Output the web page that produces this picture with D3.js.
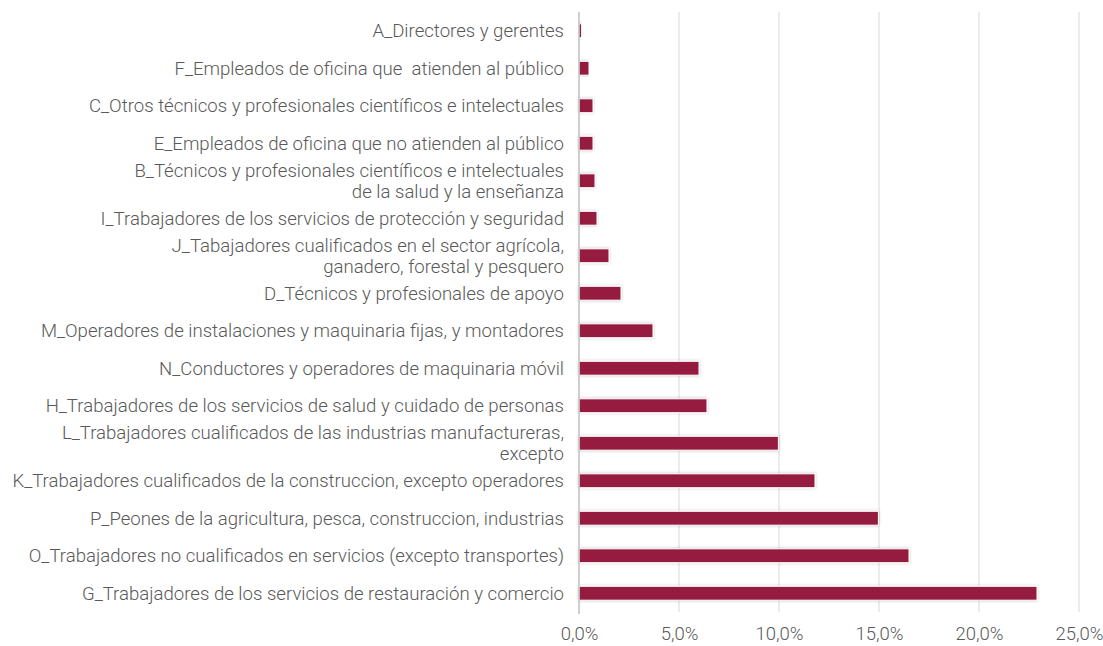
<!DOCTYPE html>
<html>
<head>
<meta charset="utf-8">
<script src="https://cdn.jsdelivr.net/npm/d3@7"></script>
<style>
  body { margin: 0; background: #fff; }
  svg text { font-family: Roboto, "Noto Sans", sans-serif; fill: #595959; font-weight: 300; }
</style>
</head>
<body>
<div id="main"></div>
<script>
// categories top to bottom, each line of a label split with "|"
const categories = [
  "A_Directores y gerentes",
  "F_Empleados de oficina que\u00a0 atienden al público",
  "C_Otros técnicos y profesionales científicos e intelectuales",
  "E_Empleados de oficina que no atienden al público",
  "B_Técnicos y profesionales científicos e intelectuales|de la salud y la enseñanza",
  "I_Trabajadores de los servicios de protección y seguridad",
  "J_Tabajadores cualificados en el sector agrícola,|ganadero, forestal y pesquero",
  "D_Técnicos y profesionales de apoyo",
  "M_Operadores de instalaciones y maquinaria fijas, y montadores",
  "N_Conductores y operadores de maquinaria móvil",
  "H_Trabajadores de los servicios de salud y cuidado de personas",
  "L_Trabajadores cualificados de las industrias manufactureras,|excepto",
  "K_Trabajadores cualificados de la construccion, excepto operadores",
  "P_Peones de la agricultura, pesca, construccion, industrias",
  "O_Trabajadores no cualificados en servicios (excepto transportes)",
  "G_Trabajadores de los servicios de restauración y comercio"
];
const values = [0.0013, 0.005, 0.007, 0.007, 0.008, 0.009, 0.015, 0.021, 0.037, 0.060, 0.064, 0.0997, 0.118, 0.1497, 0.165, 0.229];
const xTicks = [0, 0.05, 0.10, 0.15, 0.20, 0.25];

const config = {width: 500, height: 600, top: 12, left: 579, bottom: 34, right: 24};

const svg = d3.select("#main").append("svg")
  .attr("width", config.width + config.left + config.right)
  .attr("height", config.height + config.top + config.bottom);

const defs = svg.append("defs");
const shadow = defs.append("filter").attr("id", "shadow")
  .attr("x", "-10%").attr("y", "-50%").attr("width", "120%").attr("height", "200%");
shadow.append("feDropShadow")
  .attr("dx", 0).attr("dy", 0).attr("stdDeviation", 1.5)
  .attr("flood-color", "#000").attr("flood-opacity", 0.25);

const g = svg.append("g").attr("transform", `translate(${config.left},${config.top})`);

const data = categories.map((c, i) => ({cat: c, value: values[i]}));

const x = d3.scaleLinear().domain([0, 0.25]).range([0, config.width]);
const y = d3.scaleBand().domain(categories).range([0, config.height]).paddingInner(0.63).paddingOuter(0.315);

const fmt = d => d3.format(".1%")(d).replace(".", ",");

// gridlines
g.selectAll(".grid")
  .data(xTicks.slice(1))
  .enter().append("line")
    .attr("x1", d => x(d)).attr("x2", d => x(d))
    .attr("y1", 0).attr("y2", config.height)
    .attr("stroke", "#d9d9d9").attr("stroke-width", 1);

// tick labels
const xAxis = d3.axisBottom(x).tickValues(xTicks).tickFormat(fmt).tickSize(0).tickPadding(15);
const xg = g.append("g").attr("transform", `translate(0,${config.height})`).call(xAxis);
xg.select(".domain").remove();
xg.selectAll("text").style("font-size", "18.5px").attr("fill", "#595959")
  .style("font-family", "Roboto, 'Noto Sans', sans-serif");

// bars
g.selectAll("rect.bar")
  .data(data)
  .enter().append("rect")
    .attr("class", "bar")
    .attr("x", x(0))
    .attr("y", d => y(d.cat))
    .attr("width", d => x(d.value) - x(0))
    .attr("height", y.bandwidth())
    .attr("fill", "#951f3f")
    .attr("stroke", "#fff")
    .attr("stroke-width", 1)
    .attr("filter", "url(#shadow)");

// vertical axis line
g.append("line")
  .attr("x1", 0).attr("x2", 0)
  .attr("y1", 0).attr("y2", config.height + 2)
  .attr("stroke", "#bfbfbf").attr("stroke-width", 1.5);

// category labels
const fs = 18.6;
const lineH = 21;
const labels = g.selectAll("text.cat")
  .data(data)
  .enter().append("text")
    .attr("class", "cat")
    .attr("text-anchor", "end")
    .style("font-size", fs + "px")
    .attr("x", -15)
    .attr("y", d => y(d.cat) + y.bandwidth() / 2);

labels.each(function(d) {
  const lines = d.cat.split("|");
  const t = d3.select(this);
  lines.forEach((l, i) => {
    t.append("tspan")
      .attr("x", -15)
      .attr("dy", i === 0 ? (0.35 - (lines.length - 1) * 0.5 * lineH / fs) + "em" : lineH + "px")
      .text(l);
  });
});
</script>
</body>
</html>
